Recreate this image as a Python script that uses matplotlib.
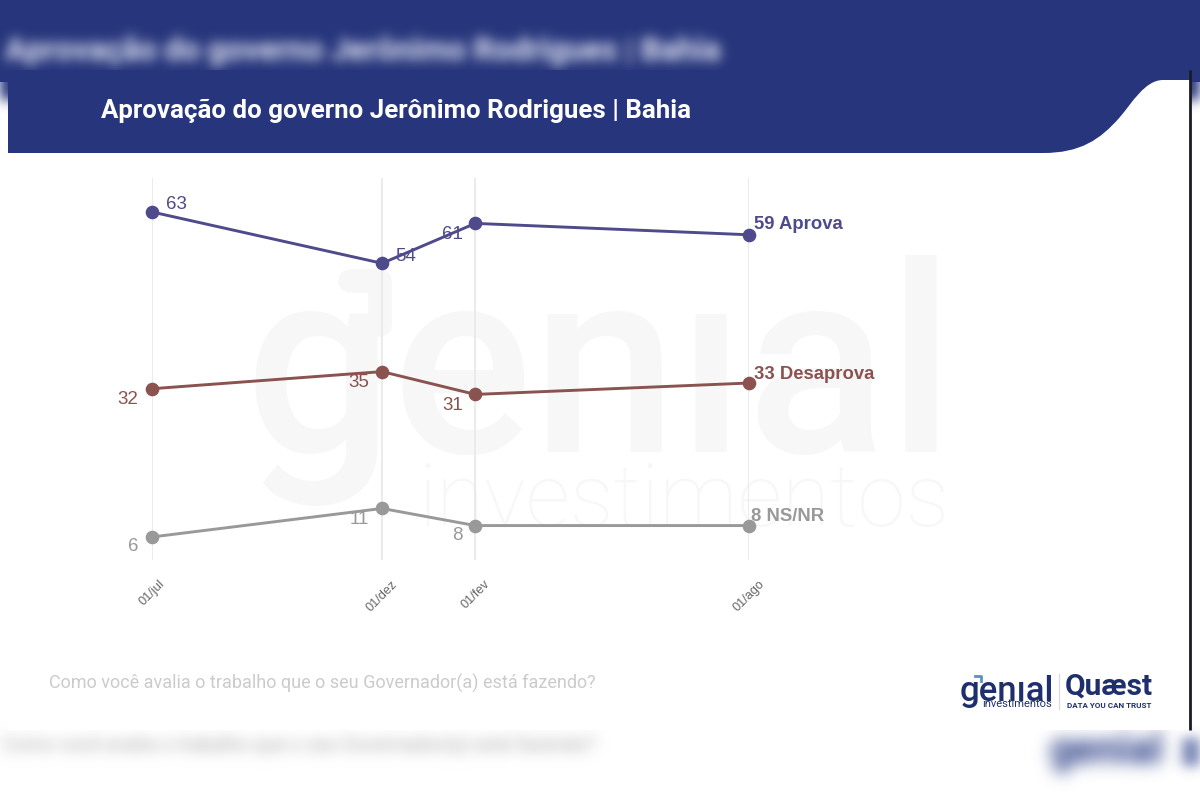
import numpy as np
import matplotlib
matplotlib.use('Agg')
import matplotlib.pyplot as plt
import matplotlib.dates as mdates
from matplotlib.patches import Rectangle, PathPatch
from matplotlib.path import Path
from matplotlib.colors import to_rgb
from datetime import datetime

dates = [datetime(2023, 7, 1), datetime(2023, 12, 1), datetime(2024, 2, 1), datetime(2024, 8, 1)]
tick_labels = ['01/jul', '01/dez', '01/fev', '01/ago']

aprova = [63, 54, 61, 59]
desaprova = [32, 35, 31, 33]
nsnr = [6, 11, 8, 8]

aprova_labels = ['63', '54', '61', '59 Aprova']
desaprova_labels = ['32', '35', '31', '33 Desaprova']
nsnr_labels = ['6', '11', '8', '8 NS/NR']

title = 'Aprovação do governo Jerônimo Rodrigues | Bahia'
question = 'Como você avalia o trabalho que o seu Governador(a) está fazendo?'

NAVY = '#27367c'
LOGO = '#1f2f6e'
BLUE = '#4f4a8c'
BROWN = '#8a5350'
GREY = '#999999'
WMARK = '#f8f7f8'

W, H = 1200, 800
px = 0.72  # pixels to points at dpi 100


def blur(sigma, color, strength=1.0):
    # gaussian blur of the alpha channel, colour stays flat
    rgb = to_rgb(color)
    r = int(sigma * 3)
    k = np.exp(-0.5 * (np.arange(-r, r + 1) / sigma) ** 2)
    k = k / k.sum()

    def f(im, dpi):
        a = np.pad(im[:, :, 3], r, mode='constant')
        a = np.apply_along_axis(lambda v: np.convolve(v, k, mode='same'), 0, a)
        a = np.apply_along_axis(lambda v: np.convolve(v, k, mode='same'), 1, a)
        out = np.zeros(a.shape + (4,))
        out[:, :, 0], out[:, :, 1], out[:, :, 2] = rgb
        out[:, :, 3] = np.clip(a * strength, 0, 1)
        return out, -r, -r
    return f


fig = plt.figure(figsize=(12, 8), dpi=100, facecolor='white')

# background layer, in pixel coordinates
bg = fig.add_axes([0, 0, 1, 1], zorder=0)
bg.set_xlim(0, W)
bg.set_ylim(H, 0)
bg.axis('off')

# blurred copy around the picture
bg.add_patch(Rectangle((0, 0), W, 82, fc=NAVY, ec='none', zorder=1))
band = Rectangle((-30, -30), W + 60, 130, fc=NAVY, ec='none', zorder=1)
band.set_agg_filter(blur(6, NAVY))
bg.add_patch(band)
t = bg.text(5, 51, title, color='#ffffff', fontsize=22.6, family='Roboto', weight='bold',
            va='center', ha='left', zorder=2)
t.set_agg_filter(blur(6, '#c3c8e0', 1.25))
t = bg.text(2, 745, question, color='#bbbbbb', fontsize=14.1, family='Roboto',
            va='center', ha='left', zorder=2)
t.set_agg_filter(blur(7, '#c0c0c0', 1.5))
t = bg.text(1050, 752, 'genial', color=LOGO, fontsize=30, family='Roboto', weight='bold',
            va='center', ha='left', zorder=2)
t.set_agg_filter(blur(8, '#6a78ab', 1.5))
patch = Rectangle((1182, 738), 40, 28, fc=LOGO, ec='none', zorder=2)
patch.set_agg_filter(blur(6, '#6a78ab', 0.9))
bg.add_patch(patch)

# sharp panel
bg.add_patch(Rectangle((8, 70), 1182, 660, fc='white', ec='none', zorder=3))
verts = [(8, 70), (1190, 70), (1190, 80), (1163, 80),
         (1145, 80), (1132, 103), (1120, 117),
         (1100, 140), (1080, 153), (1043, 153),
         (8, 153), (8, 70)]
codes = [Path.MOVETO, Path.LINETO, Path.LINETO, Path.LINETO,
         Path.CURVE4, Path.CURVE4, Path.CURVE4,
         Path.CURVE4, Path.CURVE4, Path.CURVE4,
         Path.LINETO, Path.CLOSEPOLY]
bg.add_patch(PathPatch(Path(verts, codes), fc=NAVY, ec='none', zorder=4))
bg.plot([1190, 1190], [70, 730], color='#1a1a22', lw=2, zorder=4, solid_capstyle='butt')

bg.text(101, 111, title, color='white', fontsize=18.6, family='Roboto', weight='bold',
        va='center', ha='left', zorder=5)

# watermark
bg.text(244, 452, 'gen\u0131al', color=WMARK, fontsize=188, family='Roboto', weight='medium',
        va='baseline', ha='left', zorder=4)
bg.plot([350, 380, 380], [281, 281, 325], color=WMARK, lw=17, zorder=4,
        solid_capstyle='round', solid_joinstyle='round')
bg.text(418, 526, 'investimentos', color=WMARK, fontsize=63, family='Roboto', weight='light',
        va='baseline', ha='left', zorder=4)

bg.text(49, 683, question, color='#cbcbcb', fontsize=13.0, family='Roboto',
        va='center', ha='left', zorder=5)

# logos
bg.text(960, 691, 'gen\u0131al', color=LOGO, fontsize=25, family='Roboto', weight='medium',
        va='center', ha='left', zorder=5)
bg.plot([975, 981, 981], [676, 676, 681], color='#5b8fc7', lw=2, zorder=5)
bg.text(982, 704, 'investimentos', color=LOGO, fontsize=8, family='Roboto',
        va='center', ha='left', zorder=5)
bg.plot([1059, 1059], [674, 709], color='#dddddd', lw=1, zorder=5)
bg.text(1065, 687, 'Quæst', color=LOGO, fontsize=21.5, family='Roboto', weight='bold',
        va='center', ha='left', zorder=5)
bg.text(1067, 705, 'DATA YOU CAN TRUST', color=LOGO, fontsize=5.8, family='Roboto', weight='bold',
        va='center', ha='left', zorder=5)

# chart
ax = fig.add_axes([152 / W, 1 - 560 / H, (749 - 152) / W, (560 - 178) / H], zorder=1)
ax.patch.set_alpha(0)
for s in ax.spines.values():
    s.set_visible(False)

series = [(aprova, aprova_labels, BLUE), (desaprova, desaprova_labels, BROWN), (nsnr, nsnr_labels, GREY)]
# label offsets from the point, in pixels (x, y up)
offsets = [
    [(24, 7), (24, 7), (-23, -11), (5, 10)],
    [(-24, -11), (-23, -11), (-23, -11), (5, 9)],
    [(-19, -10), (-23, -11), (-18, -10), (2, 9)],
]

for (vals, labels, col), offs in zip(series, offsets):
    ax.plot(dates, vals, color=col, lw=2.1, marker='o', ms=8.8, clip_on=False, zorder=3)
    for d, v, lab, off in zip(dates, vals, labels, offs):
        last = lab != labels[-1]
        ax.annotate(lab, (d, v), xytext=(off[0] * px, off[1] * px), textcoords='offset points',
                    color=col, family='Liberation Sans', fontsize=13.5 if last else 13.3,
                    weight='normal' if last else 'bold',
                    ha='center' if last else 'left', va='center', zorder=4)

ax.set_xlim(dates[0], dates[-1])
ax.set_ylim(1.96, 68.96)
ax.set_yticks([])
ax.set_xticks([mdates.date2num(d) for d in dates])
ax.set_xticklabels(tick_labels, rotation=45, ha='center', va='top', color='#666666',
                   family='Liberation Sans', fontsize=9.2)
ax.tick_params(axis='x', length=0, pad=13)
ax.grid(axis='x', color='#e9e9e9', lw=1.3, zorder=1)
ax.set_axisbelow(True)

fig.savefig('out.png', dpi=100)
